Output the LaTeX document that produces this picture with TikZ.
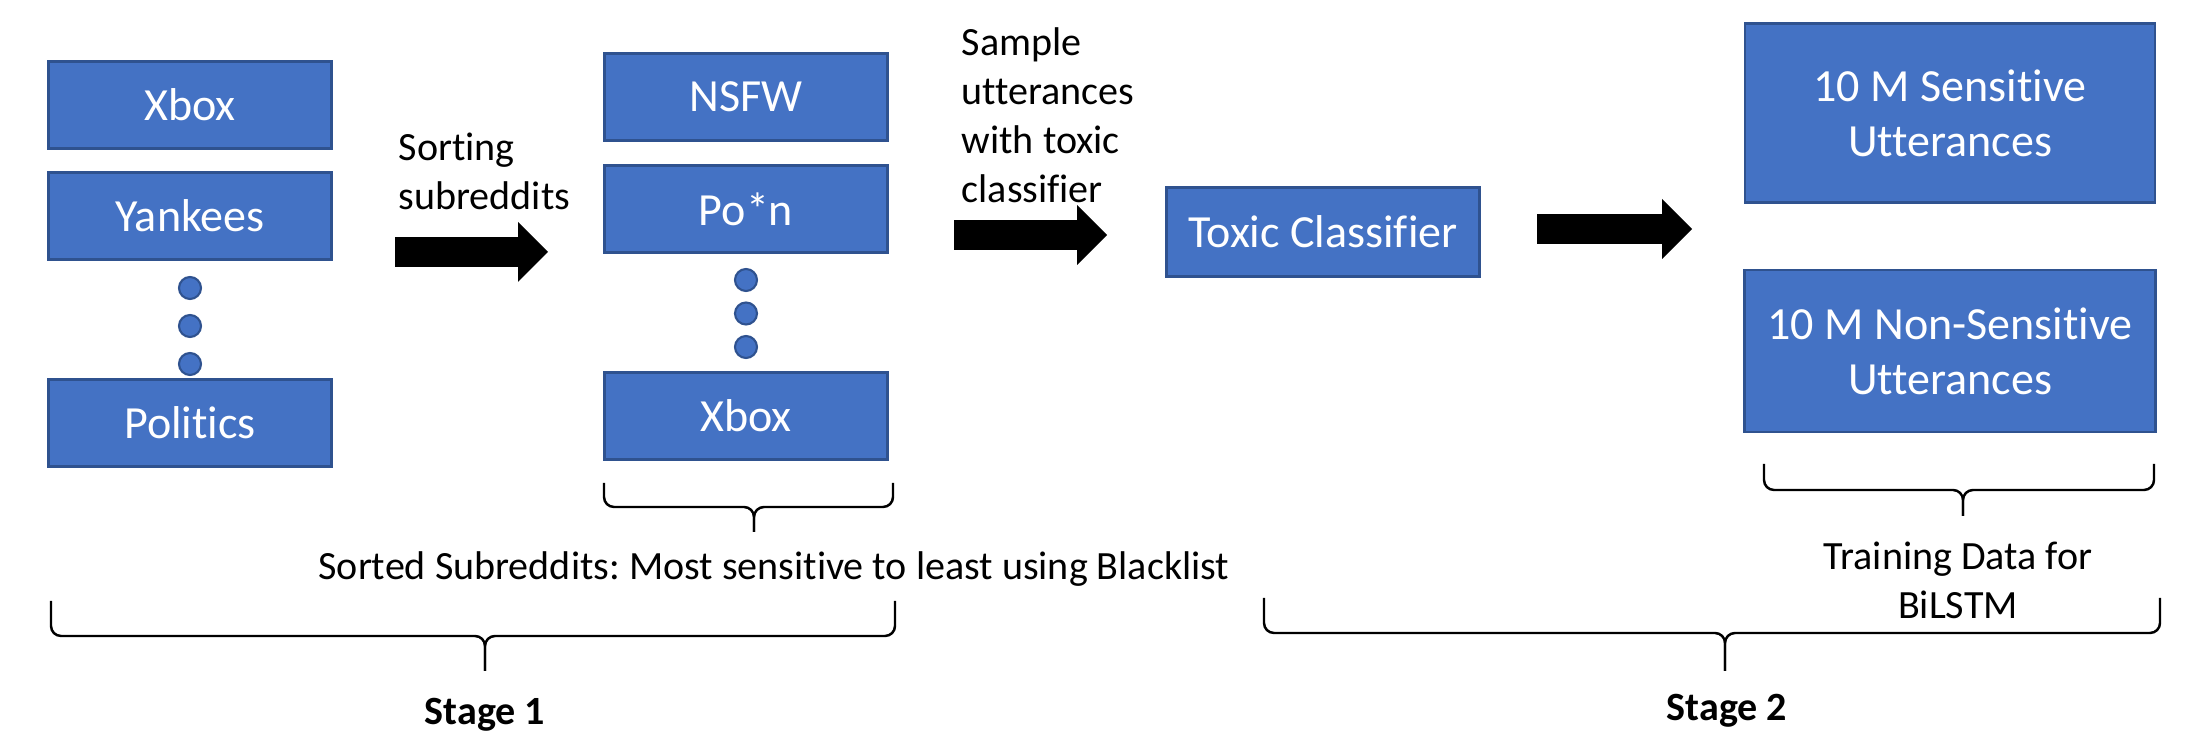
\documentclass[tikz,border=0pt]{standalone}
\usepackage{fontspec}
\setmainfont{Carlito}[Ligatures=NoCommon]
\usetikzlibrary{arrows.meta,positioning}
\definecolor{boxblue}{HTML}{4472C4}
\definecolor{boxedge}{HTML}{2F528F}
\newcommand{\boxfont}{\fontsize{13.1}{15.6}\selectfont}
\newcommand{\labfont}{\fontsize{11.4}{13.9}\selectfont}
\tikzstyle{sub}=[draw=boxedge,fill=boxblue,line width=0.8pt,text=white,font=\boxfont,minimum width=28.3mm,minimum height=8.7mm,inner sep=0pt]
\tikzstyle{res}=[sub,align=center,minimum width=41mm]
\tikzstyle{dot}=[circle,draw=boxedge,fill=boxblue,line width=0.6pt,minimum size=2.2mm,inner sep=0pt]
\tikzstyle{lab}=[font=\labfont,align=left,inner sep=0pt]
\tikzstyle{fat}=[line width=3mm,-{Triangle[length=3mm,width=6mm,line width=0pt]}]
\tikzstyle{brak}=[line width=0.7pt,rounded corners=1mm]
\frenchspacing

\begin{document}
\begin{tikzpicture}[
      x=0.1mm,y=-0.1mm
    ]
     \useasboundingbox (0,0) rectangle (2202,756);

     % subreddits as they come
     \node [sub] (xb1) at (190,105) {Xbox};
     \node [sub] (yank) [node distance=11.1mm,below of=xb1] {Yankees};
     \node [dot] (d1) [node distance=7.2mm,below of=yank] {};
     \node [dot] (d2) [node distance=3.8mm,below of=d1] {};
     \node [dot] (d3) [node distance=3.8mm,below of=d2] {};
     \node [sub] (poli) [node distance=5.9mm,below of=d3] {Politics};

     % sorted subreddits
     \node [sub] (nsfw) at (746,97) {NSFW};
     \node [sub] (porn) [node distance=11.2mm,below of=nsfw] {Po*n};
     \node [dot] (e1) [node distance=7.1mm,below of=porn] {};
     \node [dot] (e2) [node distance=3.35mm,below of=e1] {};
     \node [dot] (e3) [node distance=3.35mm,below of=e2] {};
     \node [sub] (xb2) [node distance=6.9mm,below of=e3] {Xbox};

     \node [sub,minimum width=31.3mm,minimum height=8.9mm] (toxic) at (1323,232) {Toxic Classifier};
     \node [res,minimum height=17.9mm] (sens) at (1950,113) {10 M Sensitive\\Utterances};
     \node [res,minimum width=41.1mm,minimum height=16.2mm] (nons) at (1950,351) {10 M Non-Sensitive\\Utterances};

     \node [lab,anchor=west] (sortlab) at (398,171) {Sorting\\subreddits};
     \node [lab,anchor=west] (samplab) at (961,115) {Sample\\utterances\\with toxic\\classifier};

     \coordinate (a1s) at (395,252);
     \coordinate (a1e) at (548,252);
     \coordinate (a2s) at (954,235);
     \coordinate (a2e) at (1107,235);
     \coordinate (a3s) at (1537,229);
     \coordinate (a3e) at (1692,229);
      \draw[fat] (a1s) -- (a1e);
      \draw[fat] (a2s) -- (a2e);
      \draw[fat] (a3s) -- (a3e);

     % braces
      \draw[brak] (604,483) -- (604,507) -- (754,507) -- (754,532);
      \draw[brak] (893,483) -- (893,507) -- (754,507) -- (754,532);
      \draw[brak] (51,601) -- (51,636) -- (485,636) -- (485,671);
      \draw[brak] (895,601) -- (895,636) -- (485,636) -- (485,671);
      \draw[brak] (1764,464) -- (1764,490) -- (1963,490) -- (1963,516);
      \draw[brak] (2154,464) -- (2154,490) -- (1963,490) -- (1963,516);
      \draw[brak] (1264,598) -- (1264,633) -- (1725,633) -- (1725,671);
      \draw[brak] (2160,598) -- (2160,633) -- (1725,633) -- (1725,671);

     \node [lab,anchor=base] (sorted) at (774,580) {Sorted Subreddits: Most sensitive to least using Blacklist};
     \node [lab,align=center] (train) at (1958,580) {Training Data for\\BiLSTM};
     \node [lab,anchor=base,font=\labfont\bfseries] (st1) at (485,725) {Stage 1};
     \node [lab,anchor=base,font=\labfont\bfseries] (st2) at (1727,721) {Stage 2};
    \end{tikzpicture}
\end{document}
